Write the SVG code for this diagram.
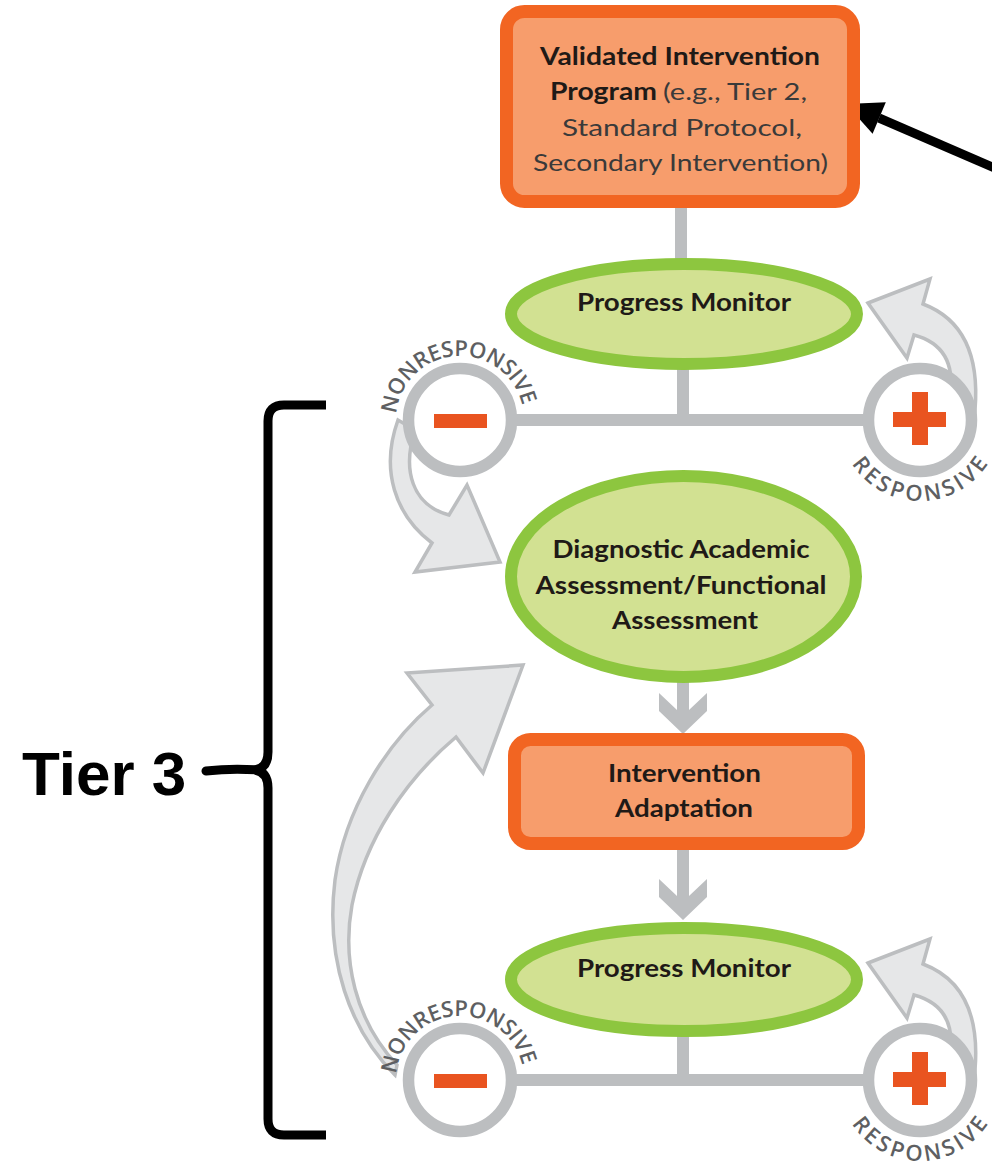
<svg xmlns="http://www.w3.org/2000/svg" width="992" height="1168" viewBox="0 0 992 1168">
  <defs>
    <style>
      .box{fill:#F79D6C;stroke:#F26522;stroke-width:13}
      .oval{fill:#D2E192;stroke:#8DC63F;stroke-width:12}
      .lbl{font-family:Lato,"Open Sans","Liberation Sans",sans-serif;font-size:24px;fill:#1F1A17;text-anchor:middle}
      .b{font-weight:bold}
      .reg{font-weight:normal;fill:#3A3A3A}
      .wire{stroke:#BCBEC0;stroke-width:12;fill:none}
      .loop{fill:#E6E7E8;stroke:#BCBEC0;stroke-width:3.5;stroke-linejoin:miter}
      .chev{fill:#BCBEC0}
      .ring{fill:#FFFFFF;stroke:#BCBEC0;stroke-width:11.5}
      .sign{fill:#E95420}
      .arc{font-family:"Open Sans",Lato,"Liberation Sans",sans-serif;font-size:22px;font-weight:600;fill:#5E5F62;text-anchor:middle}
      .brace{fill:none;stroke:#000;stroke-width:9}
    </style>
    <!-- baselines for the curved captions around the decision circles -->
    <path id="arcNon1" d="M396,420 A64,64 0 0 1 524,420"/>
    <path id="arcRes1" d="M839,420 A81,81 0 0 0 1001,420"/>
    <path id="arcNon2" d="M396,1080 A64,64 0 0 1 524,1080"/>
    <path id="arcRes2" d="M839,1080 A81,81 0 0 0 1001,1080"/>
  </defs>

  <rect width="992" height="1168" fill="#FFFFFF"/>

  <!-- connectors -->
  <g id="connectors">
    <line class="wire" x1="681" y1="205" x2="681" y2="262"/>
    <line class="wire" x1="683" y1="365" x2="683" y2="420"/>
    <line class="wire" x1="515" y1="420" x2="865" y2="420"/>
    <line class="wire" x1="683" y1="1032" x2="683" y2="1080"/>
    <line class="wire" x1="515" y1="1080" x2="865" y2="1080"/>

    <!-- flow chevrons -->
    <polygon class="chev" points="677,681 689,681 689,710 707,693 707,711 683,734 659,711 659,693 677,710"/>
    <polygon class="chev" points="677,848 689,848 689,896 707,879 707,897 683,920 659,897 659,879 677,896"/>

    <!-- responsive loops back to the monitors -->
    <path class="loop" d="M868,303 L930,279 L923,304 C960,318 980,350 975,410 L950,395 C955,360 940,342 914,335 L907,358 Z"/>
    <path class="loop" d="M868,963 L930,939 L923,964 C960,978 980,1010 975,1070 L950,1055 C955,1020 940,1002 914,995 L907,1018 Z"/>

    <!-- nonresponsive loops to the diagnostic assessment -->
    <path class="loop" d="M398,420 C380,470 395,515 432,543 L415,572 L500,562 L467,485 L449,515 C412,505 402,470 415,430 Z"/>
    <path class="loop" d="M395,1075 C350,1030 325,960 335,880 C345,810 385,745 432,705 L407,673 L523,665 L483,773 L456,737 C405,780 365,840 352,905 C342,960 355,1020 397,1065 Z"/>

    <!-- pointer to the program box -->
    <line x1="1000" y1="170.4" x2="879" y2="118" stroke="#000" stroke-width="9"/>
    <polygon points="846,104 885.8,102.3 872.6,133.7" fill="#000"/>
  </g>

  <g id="program">
    <rect class="box" x="506.5" y="11.5" width="347" height="190" rx="18"/>
    <text class="lbl b" x="680" y="65" font-size="23" textLength="280" lengthAdjust="spacingAndGlyphs">Validated Intervention</text>
    <text class="lbl b" x="550" y="100" font-size="23" style="text-anchor:start" textLength="107" lengthAdjust="spacingAndGlyphs">Program</text>
    <text class="lbl reg" x="663" y="100" font-size="23" style="text-anchor:start" textLength="144" lengthAdjust="spacingAndGlyphs">(e.g., Tier 2,</text>
    <text class="lbl reg" x="682" y="136" font-size="23" textLength="240" lengthAdjust="spacingAndGlyphs">Standard Protocol,</text>
    <text class="lbl reg" x="680.5" y="171" font-size="23" textLength="295" lengthAdjust="spacingAndGlyphs">Secondary Intervention)</text>
  </g>

  <g id="monitor1">
    <ellipse class="oval" cx="684" cy="314" rx="173" ry="50"/>
    <text class="lbl b" x="684" y="311" font-size="25" textLength="214" lengthAdjust="spacingAndGlyphs">Progress Monitor</text>
  </g>

  <g id="decision1-minus">
    <circle class="ring" cx="460" cy="420" r="51.5"/>
    <rect class="sign" x="434" y="414" width="53" height="14"/>
    <text class="arc"><textPath href="#arcNon1" startOffset="47.8%" textLength="180" lengthAdjust="spacing">NONRESPONSIVE</textPath></text>
  </g>

  <g id="decision1-plus">
    <circle class="ring" cx="920" cy="420" r="51.5"/>
    <rect class="sign" x="912" y="392" width="16" height="53"/>
    <rect class="sign" x="893" y="412" width="53" height="15"/>
    <text class="arc"><textPath href="#arcRes1" startOffset="50%" textLength="162" lengthAdjust="spacing">RESPONSIVE</textPath></text>
  </g>

  <g id="diagnostic">
    <ellipse class="oval" cx="683.5" cy="576.5" rx="172.5" ry="100.5"/>
    <text class="lbl b" x="681" y="558" font-size="24" textLength="257" lengthAdjust="spacingAndGlyphs">Diagnostic Academic</text>
    <text class="lbl b" x="681" y="594" font-size="24" textLength="291" lengthAdjust="spacingAndGlyphs">Assessment/Functional</text>
    <text class="lbl b" x="685" y="629" font-size="24" textLength="146" lengthAdjust="spacingAndGlyphs">Assessment</text>
  </g>

  <g id="adaptation">
    <rect class="box" x="514.5" y="739.5" width="344" height="104" rx="16"/>
    <text class="lbl b" x="684.5" y="782" font-size="24" textLength="153" lengthAdjust="spacingAndGlyphs">Intervention</text>
    <text class="lbl b" x="684" y="817" font-size="24" textLength="138" lengthAdjust="spacingAndGlyphs">Adaptation</text>
  </g>

  <g id="monitor2">
    <ellipse class="oval" cx="684" cy="979.5" rx="173" ry="51.5"/>
    <text class="lbl b" x="684" y="977" font-size="25" textLength="214" lengthAdjust="spacingAndGlyphs">Progress Monitor</text>
  </g>

  <g id="decision2-minus">
    <circle class="ring" cx="460" cy="1080" r="51.5"/>
    <rect class="sign" x="434" y="1074" width="53" height="14"/>
    <text class="arc"><textPath href="#arcNon2" startOffset="47.8%" textLength="180" lengthAdjust="spacing">NONRESPONSIVE</textPath></text>
  </g>

  <g id="decision2-plus">
    <circle class="ring" cx="920" cy="1080" r="51.5"/>
    <rect class="sign" x="912" y="1052" width="16" height="53"/>
    <rect class="sign" x="893" y="1072" width="53" height="15"/>
    <text class="arc"><textPath href="#arcRes2" startOffset="50%" textLength="162" lengthAdjust="spacing">RESPONSIVE</textPath></text>
  </g>

  <g id="tier3">
    <path class="brace" d="M326,405 L284,405 Q268,405 268,421 L268,752 Q268,768 255,770 Q268,772 268,788 L268,1119 Q268,1135 284,1135 L326,1135"/>
    <path d="M206,771 Q232,768 258,770" fill="none" stroke="#000" stroke-width="9" stroke-linecap="round"/>
    <text x="22" y="795" font-family="'Liberation Sans',Arial,sans-serif" font-weight="bold" font-size="62" fill="#000">Tier 3</text>
  </g>
</svg>
